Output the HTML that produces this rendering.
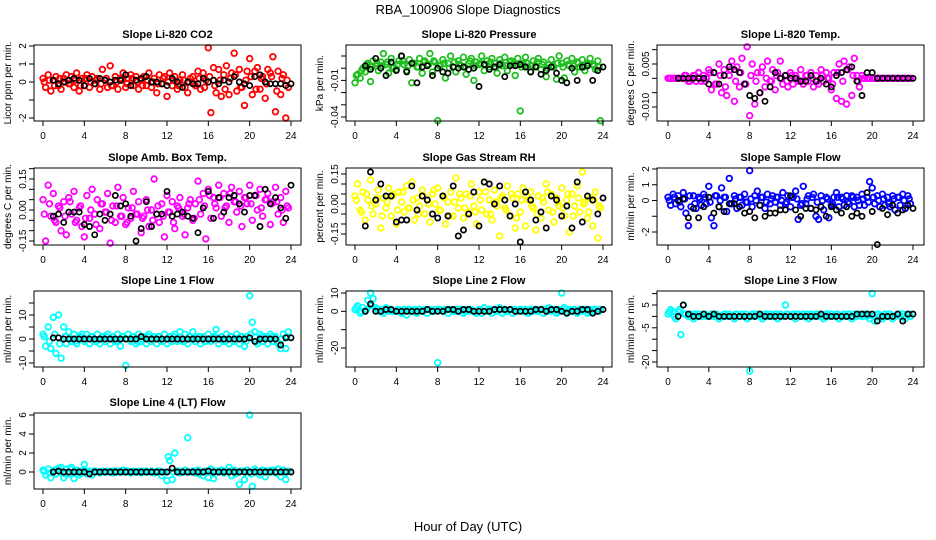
<!DOCTYPE html>
<html><head><meta charset="utf-8"><style>
html,body{margin:0;padding:0;background:#fff;}
svg{display:block;font-family:"Liberation Sans",Arial,sans-serif;}
</style></head><body>
<svg id="chart" width="936" height="540" viewBox="0 0 936 540" xmlns="http://www.w3.org/2000/svg">
<text x="468" y="14" text-anchor="middle" font-size="13">RBA_100906  Slope Diagnostics</text>
<text x="468" y="531" text-anchor="middle" font-size="13">Hour of Day (UTC)</text>
</svg>
<script>
const xTicks = [0,4,8,12,16,20,24];
// colored series: one value every 0.25 h from 0 h; extra series: one value every 0.5 h from 0.125 h; black means: every 0.5 h from 1 h
const co2Vals = [0.2,-0.3,0.4,-0.5,0.1,0.3,-0.2,-0.4,0.2,0.4,-0.1,0.3,-0.3,0.5,-0.5,0.2,-0.2,0.4,-0.3,0.3,-0.1,0.2,-0.4,0.7,0.1,-0.3,0.9,-0.2,0.3,-0.4,0.2,0.5,-0.3,0.2,0.4,-0.2,0.3,-0.4,0.1,0.3,-0.2,0.5,-0.3,0.2,-0.6,0.4,-0.1,0.3,-0.8,0.5,-0.2,0.3,-0.4,0.1,0.4,-0.3,-0.6,0.2,0.3,-0.2,0.6,-0.4,0.5,0.1,1.9,-1.7,0.8,-0.6,0.7,-0.8,0.4,0.9,-0.7,0.5,1.6,-0.5,0.7,-0.3,-1.3,0.6,1.3,-0.7,0.6,0.8,-0.4,0.3,-0.9,0.7,0.5,1.4,-1.65,0.6,-0.7,0.4,-2.0,-0.3];
const co2Extra = [0.0,0.1,-0.2,0.2,0.0,-0.1,0.1,-0.2,0.2,0.0,0.1,-0.1,0.2,-0.2,0.0,0.1,-0.1,0.2,0.0,-0.2,0.1,0.0,-0.1,0.2,0.0,0.1,-0.2,0.1,0.0,-0.1,0.2,-0.3,0.3,-0.2,0.1,-0.4,0.2,0.4,-0.3,0.1,0.3,-0.4,0.2,-0.1,0.3,-0.5,0.2,0.1];
const co2Means = [0.1,-0.1,0.0,0.1,0.2,0.1,-0.2,0.2,-0.1,0.2,0.1,0.0,0.1,0.1,0.4,-0.2,0.1,0.2,0.3,0.0,0.0,-0.1,-0.2,0.2,0.0,-0.3,0.0,-0.1,-0.1,0.2,0.0,0.1,-0.1,0.1,0.0,0.3,0.0,-0.1,-0.2,0.3,0.4,0.0,-0.1,-0.1,-0.1,-0.2,-0.1];
const presVals = [-0.012,-0.005,-0.008,0,-0.003,0.004,-0.011,0.006,0.002,-0.002,0.005,0.012,0.003,-0.004,0.008,0.001,-0.001,0.006,0.010,0.003,-0.002,0.007,-0.012,0.004,0.001,0.008,-0.004,0.006,0.003,0.012,-0.003,0.005,-0.043,0.002,0.007,-0.008,0.004,0.010,0.001,-0.003,0.006,0.002,0.009,-0.005,0.004,0.008,-0.010,0.005,0.003,0.010,-0.002,0.006,0.001,0.008,0.004,-0.004,0.007,0.002,0.009,-0.002,0.005,0.003,-0.006,0.008,-0.035,0.004,0.009,0.001,-0.003,0.006,0.002,0.008,-0.001,0.005,-0.007,0.003,0.007,0.001,-0.009,0.010,0.004,-0.008,0.006,0.002,0.008,-0.003,0.005,0.001,0.007,-0.002,0.004,0.008,0.003,-0.001,0.006,-0.043];
const presExtra = [-0.006,-0.002,0.003,0.001,0.004,0.002,0.005,0.000,0.003,0.006,0.002,0.004,0.001,0.005,0.003,0.006,0.002,0.004,0.000,0.005,0.003,0.001,0.006,0.002,0.004,0.003,0.005,0.001,0.004,0.002,0.006,0.003,0.001,0.004,0.002,0.005,0.003,0.000,0.002,0.004,0.001,0.003,0.002,0.004,0.001,0.003,0.002,0.001];
const presMeans = [0.002,-0.001,0.008,0,-0.006,0.005,-0.002,0.010,-0.003,0.004,-0.012,0.001,0.002,-0.006,0,-0.003,-0.004,0.001,0,0.001,-0.001,0,-0.015,0.003,-0.001,0.001,0.003,-0.007,0.002,0.002,0.003,0.001,-0.003,0.001,-0.005,-0.002,0.001,-0.004,-0.010,-0.012,0,-0.010,0.001,0.002,-0.010,-0.002,0.001];
const tempVals = [0,0,0,0,0,0,0,0.001,-0.001,0,0.001,-0.001,0.002,-0.001,0.001,0,0.003,-0.004,0.002,-0.002,0.005,-0.005,0.003,-0.006,0.001,0.006,-0.008,0.004,-0.003,0.007,-0.002,0.011,-0.013,0.005,-0.009,0.002,-0.005,0.004,-0.003,0.006,-0.001,0.003,-0.004,0.002,0.006,-0.002,0.001,-0.003,0.002,-0.002,0.001,-0.001,0.003,-0.002,0.001,-0.001,0.002,-0.003,0.001,-0.002,0.003,-0.001,0.002,0,-0.004,0.002,-0.007,0.005,-0.008,0.006,-0.009,0.004,-0.006,0.007,0.001,-0.003,0.001,0,0,0,0,0,0,0,0,0,0,0,0,0,0,0,0,0,0,0];
const tempExtra = [0,0,0,0.001,-0.001,0.001,0,-0.001,0.002,-0.002,0.001,-0.003,0.003,-0.001,0.002,-0.002,0.001,-0.001,0.002,0,-0.001,0.001,0,-0.001,0.001,0,-0.001,0.001,0,-0.001,0.001,0,-0.002,0.002,-0.001,0.003,0.001,-0.001,0,0,0,0,0,0,0,0,0,0];
const tempMeans = [0,0,0,0,0,0,-0.002,0.002,-0.002,0.001,0.004,0.003,0.002,-0.002,-0.006,-0.007,-0.005,-0.008,-0.003,0.002,0,0.001,0,0,-0.001,-0.001,0.001,-0.001,0,-0.002,-0.003,0.001,0.002,0.003,0.004,-0.001,-0.006,0.002,0.002,0,0,0,0,0,0,0,0];
const ambVals = [0.05,-0.15,0.12,-0.03,0.08,-0.06,0.02,-0.10,0.04,-0.12,0.06,-0.02,0.09,-0.05,0.01,-0.08,-0.13,0.07,-0.04,0.10,-0.02,0.05,-0.09,0.03,-0.01,0.08,-0.16,0.02,-0.06,0.11,-0.03,0.06,-0.07,0.01,-0.04,0.09,-0.02,0.04,-0.11,-0.03,0.05,-0.08,0,0.15,-0.02,-0.06,0.03,-0.13,0.07,-0.01,0.04,-0.09,0.02,0.06,-0.03,-0.12,0.01,0.05,-0.05,0.03,0.14,-0.02,0.08,-0.14,0.10,-0.04,0.06,0.01,0.12,-0.03,0.08,0.02,-0.06,0.11,0.04,-0.01,0.09,-0.08,0.06,0.03,0.12,-0.05,0.07,0,0.10,-0.03,0.05,0.08,-0.07,0.04,0.11,-0.02,0.06,-0.06,0.09,0.01];
const ambExtra = [-0.02,0.03,-0.05,0.01,-0.03,0.04,-0.06,0.02,-0.04,0.00,-0.07,0.03,-0.01,-0.05,0.02,-0.03,-0.06,0.01,-0.02,-0.04,0.00,-0.05,0.02,-0.03,-0.01,-0.06,0.01,-0.02,0.03,-0.04,0.05,0.02,0.07,0.03,0.06,0.01,0.08,0.04,0.02,0.06,0.03,0.07,0.01,0.05,0.03,0.04,0.00,0.02];
const ambMeans = [-0.03,-0.02,-0.06,-0.01,-0.01,-0.01,-0.07,-0.08,-0.12,-0.02,-0.05,-0.02,0.07,0.02,0.03,-0.03,-0.15,-0.09,0.04,-0.08,-0.02,-0.02,0.09,-0.03,-0.02,-0.01,-0.03,-0.04,-0.11,0.01,0.09,-0.04,0.06,-0.01,0.06,0.07,0.03,-0.01,0.07,0.07,-0.08,0.10,0.03,0.06,0.01,-0.04,0.12];
const rhVals = [0.04,0.10,-0.03,0.06,-0.08,0.02,0.12,-0.05,0,0.07,-0.12,0.03,-0.02,0.08,-0.06,0.05,-0.10,0.06,0.01,-0.04,0.09,-0.02,0.11,-0.08,0.03,-0.01,0.07,-0.05,0.02,-0.09,0.05,0,0.08,-0.03,0.04,-0.10,0.01,0.06,-0.06,0.13,-0.02,0.03,-0.07,0.05,-0.04,0.10,-0.01,-0.10,0.06,-0.03,0.11,-0.05,0.02,-0.08,0.07,-0.01,-0.16,0.04,-0.02,0.09,-0.06,0.03,-0.12,0.05,-0.04,0.08,-0.11,0.02,0.06,-0.02,-0.13,0.04,-0.07,0.01,0.10,-0.03,0.05,-0.09,0.03,-0.01,0.08,-0.06,0.02,-0.14,0.05,-0.01,0.09,-0.04,0.16,0.01,-0.07,0.03,-0.11,0.06,-0.17,-0.02];
const rhExtra = [0.02,-0.04,0.05,-0.01,0.03,-0.06,0.01,0.04,-0.03,0.06,-0.02,0.02,-0.05,0.04,0.00,0.07,-0.03,0.03,-0.06,0.01,0.05,-0.02,0.04,-0.04,0.02,0.06,-0.05,0.01,0.03,-0.03,0.05,-0.07,0.02,0.04,-0.01,-0.05,0.03,0.06,-0.04,0.01,-0.02,0.05,-0.06,0.03,0.00,-0.04,0.02,-0.01];
const rhMeans = [-0.11,0.16,0.02,0.10,0.04,0.04,-0.09,-0.08,-0.08,0.09,-0.03,0.04,0.02,-0.05,-0.07,0.04,-0.06,0.09,-0.16,-0.13,-0.05,0.06,-0.11,0.11,0.10,0,0.09,0.02,-0.06,0,-0.19,0.06,0.02,-0.08,-0.04,-0.12,0.04,0.02,-0.06,-0.01,-0.12,0.11,-0.09,0.04,0.02,-0.05,0.03];
const flowVals = [0.2,-0.3,0.4,-0.2,0.3,-0.4,0.5,-0.8,-1.6,-0.4,0.3,-0.5,0.2,-0.3,0.4,-0.2,0.9,-1.1,-1.6,0.3,-0.4,0.8,0.2,-0.7,1.4,-0.2,0.3,-0.5,0.2,-0.3,0.4,-0.1,1.9,-0.4,0.3,0.6,-0.3,0.2,-0.5,0.4,-0.2,0.3,-0.1,0.2,-0.3,0.5,-0.2,0.3,-0.4,0.2,0.6,-1.2,-0.3,0.9,-0.2,0.3,-0.5,0.4,-1.0,-1.2,0.3,-0.6,0.2,-1.1,-0.3,0.2,0.5,-0.4,0.2,-0.3,0.3,-0.2,0.3,-0.4,0.2,-0.3,0.4,-0.3,0.2,1.2,0.8,-0.2,0.3,-0.4,0.4,-0.3,0.2,-0.4,0.3,-0.6,0.2,-0.3,0.4,-0.5,0.3,-0.2];
const flowExtra = [0.0,0.2,-0.1,0.1,0.3,-0.2,0.1,0.2,-0.1,0.3,0.0,0.2,-0.2,0.1,0.2,-0.1,0.1,0.0,0.2,-0.1,0.1,0.2,0.0,-0.1,0.2,0.1,-0.2,0.1,0.2,-0.1,0.0,0.1,-0.2,0.2,0.1,-0.1,0.2,0.0,0.1,-0.1,0.2,0.0,0.1,-0.2,0.1,0.2,0.0,0.1];
const flowMeans = [0,0.1,-1.1,-0.5,-1.1,-0.4,0.2,-0.8,-0.4,-0.7,-0.2,-0.2,-0.4,-0.8,-0.7,-1.1,-0.3,-1.0,-0.8,-0.8,-0.6,-0.6,0.3,-0.6,-1.0,-0.5,-0.5,-0.6,-0.4,-1.0,-0.4,-0.6,-0.8,-0.4,-1.0,-0.8,-1.0,0.5,-0.7,-2.8,-0.5,-0.9,-0.3,-0.8,-0.6,-0.3,-0.5];
const l1Vals = [2,-3,5,-4,9,-6,10,-8,5,-2,3,-1,2,-2,1,2,-1,2,-2,1,-1,2,-2,1,-1,2,-2,1,-1,2,-3,1,-11,2,-1,1,-2,2,-1,1,-2,2,-1,1,-2,1,-1,2,-2,1,-1,2,-1,3,-1,2,-2,1,3,-1,1,-2,1,-1,2,-1,1,4,-2,1,-1,2,-2,1,-1,2,-2,1,-3,1,18,7,3,-2,2,-1,1,-2,2,-1,1,-2,-4,2,-4,3];
const l1Extra = [1,-1,2,-2,1,0,-1,1,0,1,-1,0,1,0,-1,1,0,1,-1,0,1,0,1,-1,0,1,0,-1,1,0,1,-1,0,1,0,-1,1,0,1,-1,2,-1,1,0,1,-1,0,1];
const l1Means = [0.5,0.5,0,0,0,0,0,0,0,0,0,0,0,0,0,0,0,1,0,0,0,0,0,0,0,0,0,0,0,0,0,0,0,0,0,0,0,0,0.5,-1,0,0,0,0,-2.5,0.5,0.5];
const l2Vals = [1,3,-1,2,0,6,10,7,2,0,1,-1,2,0,1,0,0,1,-1,1,-2,1,0,1,-1,1,0,1,-1,1,0,1,-28,1,0,1,-1,1,0,1,0,1,-1,1,0,1,0,-1,1,-1,2,0,1,-1,1,0,2,-1,1,0,1,-1,1,0,1,0,1,-1,1,0,1,0,1,-1,1,2,0,1,-1,1,10,2,-1,1,0,1,-1,1,0,1,-1,1,0,1,0,1];
const l2Extra = [2,0,1,3,1,0,1,0,1,0,1,0,1,0,1,0,1,0,1,0,1,0,1,0,1,0,1,0,1,0,1,0,1,0,1,0,1,0,1,0,1,0,1,0,1,0,1,0];
const l2Means = [0,4,0,0,1,1,0,0,0,0,0,0,1,0,0,0,1,1,0,1,1,0,0,0,0,1,1,1,1,0,0,0,0,1,1,0,1,1,0,-1,0,0,1,1,-1,0,1];
const l3Vals = [1,3,2,-1,2,-8,5,1,0,1,-1,0,1,0,1,0,0,1,0,1,-1,0,1,0,1,0,-1,1,0,1,0,-1,-24,1,0,1,0,-1,1,0,1,0,1,-1,1,0,5,1,0,1,-1,1,0,1,0,-1,1,0,1,0,1,-1,1,0,1,0,1,-1,0,1,0,1,-1,1,0,1,0,1,0,-1,10,-2,1,0,-1,1,0,1,-1,0,1,0,1,-1,1,0];
const l3Extra = [2,0,3,1,0,1,0,1,0,1,0,1,0,1,0,1,0,1,0,1,0,1,0,1,0,1,0,1,0,1,0,1,0,1,0,1,0,1,0,1,0,1,0,1,0,1,0,1];
const l3Means = [0,5,1,0,0,1,0,1,0,0,0,0,0,0,0,0,1,0,0,0,0,0,0,0,0,0,0,0,1,0,0,0,0,0,0,1,1,1,1,-2,0,0,0,1,-2,1,1];
const l4Vals = [0.2,-0.3,0.3,-0.6,0.1,-0.2,0.4,0.5,-0.6,0.3,-0.2,0.5,-0.7,0.2,-0.3,0.1,0.8,-0.2,0.1,-0.3,0.1,0,-0.1,0.1,0,0.1,0,-0.1,0.1,0,0.1,0.2,0,0.1,-0.1,0.1,0,0.1,-0.1,0,0.1,0,0.1,-0.1,0,0.1,-0.4,0,-0.9,1.2,-0.8,2.0,0.1,-0.1,0,0.2,3.6,0,0.1,-0.1,0.2,0,-0.4,0.1,-0.6,0.3,-0.7,0.1,0,0.2,-0.1,0.1,0.5,-0.4,0.2,0,-1.3,0.1,-0.8,0.2,6.0,-1.5,0.3,0,-0.3,0.2,-0.5,0,0.1,0.2,-0.1,0.3,-0.5,0.2,-0.8,0.1];
const l4Extra = [0.1,-0.1,0.2,0,-0.2,0.3,0,-0.1,0.1,0,0.1,0,0,0.1,0,0,0.1,0,0,0.1,0,0,0.1,0,1.6,0,0.1,0,0,0.1,-0.2,0,0.1,0,0.1,0,0.1,-0.2,0.1,0,-0.2,0.1,0,0.1,0.2,-0.1,0.1,0];
const l4Means = [0,0.1,0,0,0,0,0,-0.2,0,0,0,0,0,0,0,0,0,0,0,0,0,0,0,0.4,0,0,0,0,0,0,0.1,0,0,0,0,0,0,0,0,0,0,0,0,0,0,0,0];

const panels = [
 {name:'co2', title:'Slope Li-820 CO2', ylab:'Licor ppm per min.', color:'#ff0000', vals:co2Vals, extra:co2Extra, means:co2Means, bx:34,bx2:301,by:45,by2:121,x0:43,x24:291, v1:2,p1:46,v2:-2,p2:118, ticks:[2,1,0,-1,-2], labels:['2','1','0','','-2']},
 {name:'pressure', title:'Slope Li-820 Pressure', ylab:'kPa per min.', color:'#1fbf1f', vals:presVals, extra:presExtra, means:presMeans, bx:346,bx2:612,by:45,by2:121,x0:355,x24:603, v1:0.01,p1:56,v2:-0.04,p2:117, ticks:[0.01,0,-0.01,-0.02,-0.03,-0.04], labels:['','','-0.01','','','-0.04']},
 {name:'temp', title:'Slope Li-820 Temp.', ylab:'degrees C per min.', color:'#ff00ff', vals:tempVals, extra:tempExtra, means:tempMeans, bx:657,bx2:924,by:45,by2:121,x0:668,x24:913, v1:0.005,p1:64,v2:-0.010,p2:107, ticks:[0.010,0.005,0,-0.005,-0.010], labels:['','0.005','','','-0.010']},
 {name:'amb-box-temp', title:'Slope Amb. Box Temp.', ylab:'degrees C per min.', color:'#ff00ff', vals:ambVals, extra:ambExtra, means:ambMeans, bx:34,bx2:301,by:168,by2:245,x0:43,x24:291, v1:0.15,p1:179,v2:-0.15,p2:241, ticks:[0.20,0.15,0.10,0.05,0,-0.05,-0.10,-0.15], labels:['','0.15','','','0.00','','','-0.15']},
 {name:'gas-stream-rh', title:'Slope Gas Stream RH', ylab:'percent per min.', color:'#ffff00', vals:rhVals, extra:rhExtra, means:rhMeans, bx:346,bx2:612,by:168,by2:245,x0:355,x24:603, v1:0.15,p1:174,v2:-0.15,p2:234, ticks:[0.15,0.10,0.05,0,-0.05,-0.10,-0.15], labels:['0.15','','','0.00','','','-0.15']},
 {name:'sample-flow', title:'Slope Sample Flow', ylab:'ml/min per min.', color:'#0000ff', vals:flowVals, extra:flowExtra, means:flowMeans, bx:657,bx2:924,by:168,by2:245,x0:668,x24:913, v1:2,p1:169,v2:-2,p2:232, ticks:[2,1,0,-1,-2], labels:['2','1','0','','-2']},
 {name:'line1-flow', title:'Slope Line 1 Flow', ylab:'ml/min per min.', color:'#00ffff', vals:l1Vals, extra:l1Extra, means:l1Means, bx:34,bx2:301,by:291,by2:367,x0:43,x24:291, v1:10,p1:315,v2:-10,p2:363, ticks:[15,10,5,0,-5,-10], labels:['','10','','0','','-10']},
 {name:'line2-flow', title:'Slope Line 2 Flow', ylab:'ml/min per min.', color:'#00ffff', vals:l2Vals, extra:l2Extra, means:l2Means, bx:346,bx2:612,by:291,by2:367,x0:355,x24:603, v1:10,p1:293,v2:-20,p2:348, ticks:[10,0,-10,-20], labels:['10','0','','-20']},
 {name:'line3-flow', title:'Slope Line 3 Flow', ylab:'ml/min per min.', color:'#00ffff', vals:l3Vals, extra:l3Extra, means:l3Means, bx:657,bx2:924,by:291,by2:367,x0:668,x24:913, v1:5,p1:305,v2:-20,p2:362, ticks:[10,5,0,-5,-10,-15,-20], labels:['','5','','-5','','','-20']},
 {name:'line4-flow', title:'Slope Line 4 (LT) Flow', ylab:'ml/min per min.', color:'#00ffff', vals:l4Vals, extra:l4Extra, means:l4Means, bx:34,bx2:301,by:413,by2:489,x0:43,x24:291, v1:6,p1:415,v2:0,p2:472, ticks:[6,4,2,0], labels:['6','4','2','0']}
];

const NS = 'http://www.w3.org/2000/svg';
const svg = document.getElementById('chart');
function mk(tag, attrs, parent){ const e=document.createElementNS(NS,tag); for(const k in attrs) e.setAttribute(k,attrs[k]); (parent||svg).appendChild(e); return e; }

panels.forEach(p=>{
  const g = mk('g',{});
  
  
  const xs = h => p.x0 + (p.x24-p.x0)*h/24;
  const ys = v => p.p1 + (v-p.v1)*(p.p2-p.p1)/(p.v2-p.v1);
  p.vals.forEach((v,i)=>{
    const c = mk('circle',{cx:xs(i*0.25).toFixed(1), cy:ys(v).toFixed(1), r:2.8, fill:'none', stroke:p.color, 'stroke-width':1.8}, g);
    
    
  });
  p.extra.forEach((v,i)=>{
    const c = mk('circle',{cx:xs(0.125+i*0.5).toFixed(1), cy:ys(v).toFixed(1), r:2.8, fill:'none', stroke:p.color, 'stroke-width':1.8}, g);
    
    
  });
  p.means.forEach((v,i)=>{
    const c = mk('circle',{cx:xs(1+i*0.5).toFixed(1), cy:ys(v).toFixed(1), r:2.6, fill:'none', stroke:'#000', 'stroke-width':1.7}, g);
    
    
  });
  const box = mk('rect',{x:p.bx, y:p.by, width:p.bx2-p.bx, height:p.by2-p.by, fill:'none', stroke:'#000', 'stroke-width':1}, g);
  
  
  const t = mk('text',{x:(p.bx+p.bx2)/2, y:p.by-7, 'text-anchor':'middle', 'font-size':11, 'font-weight':'bold'}, g);
  t.textContent = p.title;
  
  
  const yl = mk('text',{x:0, y:0, 'text-anchor':'middle', 'font-size':10, transform:`translate(${p.bx-23},${(p.by+p.by2)/2}) rotate(-90)`}, g);
  yl.textContent = p.ylab;
  
  
  xTicks.forEach(h=>{
    const x = xs(h);
    mk('line',{x1:x, y1:p.by2, x2:x, y2:p.by2+5, stroke:'#000'}, g);
    const tl = mk('text',{x:x, y:p.by2+18, 'text-anchor':'middle', 'font-size':10}, g);
    tl.textContent = String(h);
    
    
  });
  p.ticks.forEach((v,i)=>{
    const y = ys(v);
    mk('line',{x1:p.bx-5, y1:y, x2:p.bx, y2:y, stroke:'#000'}, g);
    if(p.labels[i]){
      const tl = mk('text',{x:0, y:0, 'text-anchor':'middle', 'font-size':10, transform:`translate(${p.bx-8},${y}) rotate(-90)`}, g);
      tl.textContent = p.labels[i];
      
      
    }
  });
});
</script>
</body></html>
